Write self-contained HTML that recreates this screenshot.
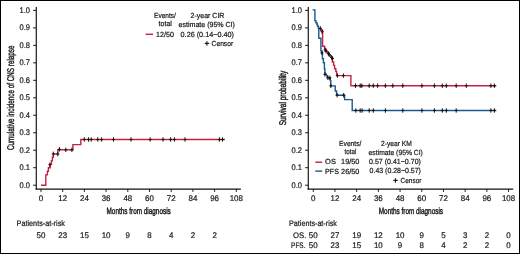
<!DOCTYPE html>
<html><head><meta charset="utf-8"><style>
html,body{margin:0;padding:0;background:#fff;}
body{width:520px;height:254px;overflow:hidden;}
svg{display:block;will-change:transform;text-rendering:geometricPrecision;}
.t{font-family:"Liberation Sans", sans-serif;fill:#1a1a1a;stroke:#1a1a1a;stroke-width:0.22px;}
.lab{font-family:"Liberation Sans", sans-serif;fill:#1a1a1a;stroke:#1a1a1a;stroke-width:0.42px;}
</style></head><body>
<svg width="520" height="254" viewBox="0 0 520 254">
<rect x="0" y="0" width="520" height="254" fill="#fff"/>
<rect x="0.5" y="0.5" width="519" height="253" fill="none" stroke="#000" stroke-width="1"/>
<line x1="36.3" y1="7" x2="36.3" y2="189.7" stroke="#1a1a1a" stroke-width="1.2"/>
<line x1="35.699999999999996" y1="189.1" x2="240.9" y2="189.1" stroke="#111" stroke-width="1.4"/>
<line x1="33.099999999999994" y1="185.20" x2="36.3" y2="185.20" stroke="#1a1a1a" stroke-width="1"/>
<text transform="translate(30.00,187.70) scale(0.92,1)" text-anchor="end" class="t" style="font-size:8.2px">0.0</text>
<line x1="33.099999999999994" y1="167.72" x2="36.3" y2="167.72" stroke="#1a1a1a" stroke-width="1"/>
<text transform="translate(30.00,170.22) scale(0.92,1)" text-anchor="end" class="t" style="font-size:8.2px">0.1</text>
<line x1="33.099999999999994" y1="150.24" x2="36.3" y2="150.24" stroke="#1a1a1a" stroke-width="1"/>
<text transform="translate(30.00,152.74) scale(0.92,1)" text-anchor="end" class="t" style="font-size:8.2px">0.2</text>
<line x1="33.099999999999994" y1="132.76" x2="36.3" y2="132.76" stroke="#1a1a1a" stroke-width="1"/>
<text transform="translate(30.00,135.26) scale(0.92,1)" text-anchor="end" class="t" style="font-size:8.2px">0.3</text>
<line x1="33.099999999999994" y1="115.28" x2="36.3" y2="115.28" stroke="#1a1a1a" stroke-width="1"/>
<text transform="translate(30.00,117.78) scale(0.92,1)" text-anchor="end" class="t" style="font-size:8.2px">0.4</text>
<line x1="33.099999999999994" y1="97.80" x2="36.3" y2="97.80" stroke="#1a1a1a" stroke-width="1"/>
<text transform="translate(30.00,100.30) scale(0.92,1)" text-anchor="end" class="t" style="font-size:8.2px">0.5</text>
<line x1="33.099999999999994" y1="80.32" x2="36.3" y2="80.32" stroke="#1a1a1a" stroke-width="1"/>
<text transform="translate(30.00,82.82) scale(0.92,1)" text-anchor="end" class="t" style="font-size:8.2px">0.6</text>
<line x1="33.099999999999994" y1="62.84" x2="36.3" y2="62.84" stroke="#1a1a1a" stroke-width="1"/>
<text transform="translate(30.00,65.34) scale(0.92,1)" text-anchor="end" class="t" style="font-size:8.2px">0.7</text>
<line x1="33.099999999999994" y1="45.36" x2="36.3" y2="45.36" stroke="#1a1a1a" stroke-width="1"/>
<text transform="translate(30.00,47.86) scale(0.92,1)" text-anchor="end" class="t" style="font-size:8.2px">0.8</text>
<line x1="33.099999999999994" y1="27.88" x2="36.3" y2="27.88" stroke="#1a1a1a" stroke-width="1"/>
<text transform="translate(30.00,30.38) scale(0.92,1)" text-anchor="end" class="t" style="font-size:8.2px">0.9</text>
<line x1="33.099999999999994" y1="10.40" x2="36.3" y2="10.40" stroke="#1a1a1a" stroke-width="1"/>
<text transform="translate(30.00,12.90) scale(0.92,1)" text-anchor="end" class="t" style="font-size:8.2px">1.0</text>
<line x1="41.00" y1="189.1" x2="41.00" y2="191.9" stroke="#1a1a1a" stroke-width="1"/>
<text transform="translate(41.00,200.80) scale(0.97,1)" text-anchor="middle" class="t" style="font-size:8.2px">0</text>
<line x1="62.70" y1="189.1" x2="62.70" y2="191.9" stroke="#1a1a1a" stroke-width="1"/>
<text transform="translate(62.70,200.80) scale(0.97,1)" text-anchor="middle" class="t" style="font-size:8.2px">12</text>
<line x1="84.40" y1="189.1" x2="84.40" y2="191.9" stroke="#1a1a1a" stroke-width="1"/>
<text transform="translate(84.40,200.80) scale(0.97,1)" text-anchor="middle" class="t" style="font-size:8.2px">24</text>
<line x1="106.10" y1="189.1" x2="106.10" y2="191.9" stroke="#1a1a1a" stroke-width="1"/>
<text transform="translate(106.10,200.80) scale(0.97,1)" text-anchor="middle" class="t" style="font-size:8.2px">36</text>
<line x1="127.80" y1="189.1" x2="127.80" y2="191.9" stroke="#1a1a1a" stroke-width="1"/>
<text transform="translate(127.80,200.80) scale(0.97,1)" text-anchor="middle" class="t" style="font-size:8.2px">48</text>
<line x1="149.50" y1="189.1" x2="149.50" y2="191.9" stroke="#1a1a1a" stroke-width="1"/>
<text transform="translate(149.50,200.80) scale(0.97,1)" text-anchor="middle" class="t" style="font-size:8.2px">60</text>
<line x1="171.20" y1="189.1" x2="171.20" y2="191.9" stroke="#1a1a1a" stroke-width="1"/>
<text transform="translate(171.20,200.80) scale(0.97,1)" text-anchor="middle" class="t" style="font-size:8.2px">72</text>
<line x1="192.90" y1="189.1" x2="192.90" y2="191.9" stroke="#1a1a1a" stroke-width="1"/>
<text transform="translate(192.90,200.80) scale(0.97,1)" text-anchor="middle" class="t" style="font-size:8.2px">84</text>
<line x1="214.60" y1="189.1" x2="214.60" y2="191.9" stroke="#1a1a1a" stroke-width="1"/>
<text transform="translate(214.60,200.80) scale(0.97,1)" text-anchor="middle" class="t" style="font-size:8.2px">96</text>
<line x1="236.30" y1="189.1" x2="236.30" y2="191.9" stroke="#1a1a1a" stroke-width="1"/>
<text transform="translate(236.30,200.80) scale(0.97,1)" text-anchor="middle" class="t" style="font-size:8.2px">108</text>
<text x="138.65" y="213.8" text-anchor="middle" textLength="64.2" lengthAdjust="spacingAndGlyphs" class="lab" style="font-size:9px">Months from diagnosis</text>
<text transform="translate(14.3,97.75) rotate(-90)" text-anchor="middle" textLength="104.4" lengthAdjust="spacingAndGlyphs" class="lab" style="font-size:9.8px">Cumulative incidence of CNS relapse</text>
<path d="M41 185.2 H45.8 V174.9 H47.4 V171.2 H48.4 V167.7 H50.2 V164.2 H51.4 V160.7 H52.4 V157.2 H53.3 V154.0 H57.8 V149.8 H72.9 V144.6 H80.8 V139.5 H225" stroke="#c8203f" stroke-width="1.4" fill="none"/>
<path d="M48.40 164.70H51.40M49.90 162.50V166.90" stroke="#111" stroke-width="1" fill="none"/>
<path d="M51.80 153.80H54.80M53.30 151.60V156.00" stroke="#111" stroke-width="1" fill="none"/>
<path d="M56.30 154.10H59.30M57.80 151.90V156.30" stroke="#111" stroke-width="1" fill="none"/>
<path d="M57.90 149.30H60.90M59.40 147.10V151.50" stroke="#111" stroke-width="1" fill="none"/>
<path d="M64.30 149.80H67.30M65.80 147.60V152.00" stroke="#111" stroke-width="1" fill="none"/>
<path d="M70.40 149.80H73.40M71.90 147.60V152.00" stroke="#111" stroke-width="1" fill="none"/>
<path d="M82.80 139.50H85.80M84.30 137.30V141.70" stroke="#111" stroke-width="1" fill="none"/>
<path d="M87.00 139.50H90.00M88.50 137.30V141.70" stroke="#111" stroke-width="1" fill="none"/>
<path d="M89.70 139.50H92.70M91.20 137.30V141.70" stroke="#111" stroke-width="1" fill="none"/>
<path d="M96.30 139.50H99.30M97.80 137.30V141.70" stroke="#111" stroke-width="1" fill="none"/>
<path d="M100.10 139.50H103.10M101.60 137.30V141.70" stroke="#111" stroke-width="1" fill="none"/>
<path d="M112.00 139.50H115.00M113.50 137.30V141.70" stroke="#111" stroke-width="1" fill="none"/>
<path d="M129.50 139.50H132.50M131.00 137.30V141.70" stroke="#111" stroke-width="1" fill="none"/>
<path d="M148.70 139.50H151.70M150.20 137.30V141.70" stroke="#111" stroke-width="1" fill="none"/>
<path d="M161.50 139.50H164.50M163.00 137.30V141.70" stroke="#111" stroke-width="1" fill="none"/>
<path d="M169.10 139.50H172.10M170.60 137.30V141.70" stroke="#111" stroke-width="1" fill="none"/>
<path d="M172.90 139.50H175.90M174.40 137.30V141.70" stroke="#111" stroke-width="1" fill="none"/>
<path d="M183.50 139.50H186.50M185.00 137.30V141.70" stroke="#111" stroke-width="1" fill="none"/>
<path d="M217.90 139.50H220.90M219.40 137.30V141.70" stroke="#111" stroke-width="1" fill="none"/>
<path d="M221.00 139.50H224.00M222.50 137.30V141.70" stroke="#111" stroke-width="1" fill="none"/>
<line x1="145.6" y1="34.3" x2="153" y2="34.3" stroke="#c8203f" stroke-width="1.4"/>
<path d="M204.8 43.4H209.2" stroke="#111" stroke-width="1.2"/><path d="M206.95 41.1V45.8" stroke="#111" stroke-width="1"/>
<path d="M393.3 180.4H397.7" stroke="#111" stroke-width="1.2"/><path d="M395.45 178.1V182.8" stroke="#111" stroke-width="1"/>
<text transform="translate(41.00,237.90) scale(0.97,1)" text-anchor="middle" class="t" style="font-size:8.2px">50</text>
<text transform="translate(62.70,237.90) scale(0.97,1)" text-anchor="middle" class="t" style="font-size:8.2px">23</text>
<text transform="translate(84.40,237.90) scale(0.97,1)" text-anchor="middle" class="t" style="font-size:8.2px">15</text>
<text transform="translate(106.10,237.90) scale(0.97,1)" text-anchor="middle" class="t" style="font-size:8.2px">10</text>
<text transform="translate(127.80,237.90) scale(0.97,1)" text-anchor="middle" class="t" style="font-size:8.2px">9</text>
<text transform="translate(149.50,237.90) scale(0.97,1)" text-anchor="middle" class="t" style="font-size:8.2px">8</text>
<text transform="translate(171.20,237.90) scale(0.97,1)" text-anchor="middle" class="t" style="font-size:8.2px">4</text>
<text transform="translate(192.90,237.90) scale(0.97,1)" text-anchor="middle" class="t" style="font-size:8.2px">2</text>
<text transform="translate(214.60,237.90) scale(0.97,1)" text-anchor="middle" class="t" style="font-size:8.2px">2</text>
<line x1="308.3" y1="7" x2="308.3" y2="189.7" stroke="#1a1a1a" stroke-width="1.2"/>
<line x1="307.7" y1="189.1" x2="513.15" y2="189.1" stroke="#111" stroke-width="1.4"/>
<line x1="305.1" y1="185.20" x2="308.3" y2="185.20" stroke="#1a1a1a" stroke-width="1"/>
<text transform="translate(302.00,187.70) scale(0.92,1)" text-anchor="end" class="t" style="font-size:8.2px">0.0</text>
<line x1="305.1" y1="167.72" x2="308.3" y2="167.72" stroke="#1a1a1a" stroke-width="1"/>
<text transform="translate(302.00,170.22) scale(0.92,1)" text-anchor="end" class="t" style="font-size:8.2px">0.1</text>
<line x1="305.1" y1="150.24" x2="308.3" y2="150.24" stroke="#1a1a1a" stroke-width="1"/>
<text transform="translate(302.00,152.74) scale(0.92,1)" text-anchor="end" class="t" style="font-size:8.2px">0.2</text>
<line x1="305.1" y1="132.76" x2="308.3" y2="132.76" stroke="#1a1a1a" stroke-width="1"/>
<text transform="translate(302.00,135.26) scale(0.92,1)" text-anchor="end" class="t" style="font-size:8.2px">0.3</text>
<line x1="305.1" y1="115.28" x2="308.3" y2="115.28" stroke="#1a1a1a" stroke-width="1"/>
<text transform="translate(302.00,117.78) scale(0.92,1)" text-anchor="end" class="t" style="font-size:8.2px">0.4</text>
<line x1="305.1" y1="97.80" x2="308.3" y2="97.80" stroke="#1a1a1a" stroke-width="1"/>
<text transform="translate(302.00,100.30) scale(0.92,1)" text-anchor="end" class="t" style="font-size:8.2px">0.5</text>
<line x1="305.1" y1="80.32" x2="308.3" y2="80.32" stroke="#1a1a1a" stroke-width="1"/>
<text transform="translate(302.00,82.82) scale(0.92,1)" text-anchor="end" class="t" style="font-size:8.2px">0.6</text>
<line x1="305.1" y1="62.84" x2="308.3" y2="62.84" stroke="#1a1a1a" stroke-width="1"/>
<text transform="translate(302.00,65.34) scale(0.92,1)" text-anchor="end" class="t" style="font-size:8.2px">0.7</text>
<line x1="305.1" y1="45.36" x2="308.3" y2="45.36" stroke="#1a1a1a" stroke-width="1"/>
<text transform="translate(302.00,47.86) scale(0.92,1)" text-anchor="end" class="t" style="font-size:8.2px">0.8</text>
<line x1="305.1" y1="27.88" x2="308.3" y2="27.88" stroke="#1a1a1a" stroke-width="1"/>
<text transform="translate(302.00,30.38) scale(0.92,1)" text-anchor="end" class="t" style="font-size:8.2px">0.9</text>
<line x1="305.1" y1="10.40" x2="308.3" y2="10.40" stroke="#1a1a1a" stroke-width="1"/>
<text transform="translate(302.00,12.90) scale(0.92,1)" text-anchor="end" class="t" style="font-size:8.2px">1.0</text>
<line x1="313.25" y1="189.1" x2="313.25" y2="191.9" stroke="#1a1a1a" stroke-width="1"/>
<text transform="translate(313.25,200.80) scale(0.97,1)" text-anchor="middle" class="t" style="font-size:8.2px">0</text>
<line x1="334.95" y1="189.1" x2="334.95" y2="191.9" stroke="#1a1a1a" stroke-width="1"/>
<text transform="translate(334.95,200.80) scale(0.97,1)" text-anchor="middle" class="t" style="font-size:8.2px">12</text>
<line x1="356.65" y1="189.1" x2="356.65" y2="191.9" stroke="#1a1a1a" stroke-width="1"/>
<text transform="translate(356.65,200.80) scale(0.97,1)" text-anchor="middle" class="t" style="font-size:8.2px">24</text>
<line x1="378.35" y1="189.1" x2="378.35" y2="191.9" stroke="#1a1a1a" stroke-width="1"/>
<text transform="translate(378.35,200.80) scale(0.97,1)" text-anchor="middle" class="t" style="font-size:8.2px">36</text>
<line x1="400.05" y1="189.1" x2="400.05" y2="191.9" stroke="#1a1a1a" stroke-width="1"/>
<text transform="translate(400.05,200.80) scale(0.97,1)" text-anchor="middle" class="t" style="font-size:8.2px">48</text>
<line x1="421.75" y1="189.1" x2="421.75" y2="191.9" stroke="#1a1a1a" stroke-width="1"/>
<text transform="translate(421.75,200.80) scale(0.97,1)" text-anchor="middle" class="t" style="font-size:8.2px">60</text>
<line x1="443.45" y1="189.1" x2="443.45" y2="191.9" stroke="#1a1a1a" stroke-width="1"/>
<text transform="translate(443.45,200.80) scale(0.97,1)" text-anchor="middle" class="t" style="font-size:8.2px">72</text>
<line x1="465.15" y1="189.1" x2="465.15" y2="191.9" stroke="#1a1a1a" stroke-width="1"/>
<text transform="translate(465.15,200.80) scale(0.97,1)" text-anchor="middle" class="t" style="font-size:8.2px">84</text>
<line x1="486.85" y1="189.1" x2="486.85" y2="191.9" stroke="#1a1a1a" stroke-width="1"/>
<text transform="translate(486.85,200.80) scale(0.97,1)" text-anchor="middle" class="t" style="font-size:8.2px">96</text>
<line x1="508.55" y1="189.1" x2="508.55" y2="191.9" stroke="#1a1a1a" stroke-width="1"/>
<text transform="translate(508.55,200.80) scale(0.97,1)" text-anchor="middle" class="t" style="font-size:8.2px">108</text>
<text x="410.90" y="213.8" text-anchor="middle" textLength="64.2" lengthAdjust="spacingAndGlyphs" class="lab" style="font-size:9px">Months from diagnosis</text>
<text transform="translate(285.6,98) rotate(-90)" text-anchor="middle" textLength="54.7" lengthAdjust="spacingAndGlyphs" class="lab" style="font-size:9.8px">Survival probability</text>
<path d="M318.3 28.4 H320.9 V30.2 H322.6 V46.3 H324.6 V48.6 H325.6 V50.6 H326.8 V52 H328 V53.2 H329 V54.6 H330.2 V56 H331.3 V57.5 H332.4 V62 H333.6 V65.4 H334.6 V68.7 H335.8 V71.4 H336.6 V75.6 H350.9 V85.7 H496.3" stroke="#c8203f" stroke-width="1.4" fill="none"/>
<path d="M312.5 9.9 H314.9 V20.7 H315.9 V22.7 H316.9 V24.2 H317.4 V26 H318.3 V28.4 H318.8 V38.3 H320.9 V50.9 H321.9 V52.9 H322.4 V58.8 H323.4 V62.7 H324.4 V69 H324.9 V74.3 H326.4 V75.8 H327.4 V77.8 H330.3 V80.7 H330.8 V85.9 H335.2 V91 H336.6 V95.2 H344.6 V99.6 H352.2 V110.5 H496.3" stroke="#1d5890" stroke-width="1.4" fill="none"/>
<path d="M318.80 28.40H321.80M320.30 26.20V30.60" stroke="#111" stroke-width="1" fill="none"/>
<path d="M320.60 31.70H323.60M322.10 29.50V33.90" stroke="#111" stroke-width="1" fill="none"/>
<path d="M323.60 49.80H326.60M325.10 47.60V52.00" stroke="#111" stroke-width="1" fill="none"/>
<path d="M324.50 51.10H327.50M326.00 48.90V53.30" stroke="#111" stroke-width="1" fill="none"/>
<path d="M326.90 53.60H329.90M328.40 51.40V55.80" stroke="#111" stroke-width="1" fill="none"/>
<path d="M327.70 54.70H330.70M329.20 52.50V56.90" stroke="#111" stroke-width="1" fill="none"/>
<path d="M330.10 57.50H333.10M331.60 55.30V59.70" stroke="#111" stroke-width="1" fill="none"/>
<path d="M331.00 58.50H334.00M332.50 56.30V60.70" stroke="#111" stroke-width="1" fill="none"/>
<path d="M335.90 75.60H338.90M337.40 73.40V77.80" stroke="#111" stroke-width="1" fill="none"/>
<path d="M341.90 75.60H344.90M343.40 73.40V77.80" stroke="#111" stroke-width="1" fill="none"/>
<path d="M354.00 85.70H357.00M355.50 83.50V87.90" stroke="#111" stroke-width="1" fill="none"/>
<path d="M358.70 85.70H361.70M360.20 83.50V87.90" stroke="#111" stroke-width="1" fill="none"/>
<path d="M360.30 85.70H363.30M361.80 83.50V87.90" stroke="#111" stroke-width="1" fill="none"/>
<path d="M367.70 85.70H370.70M369.20 83.50V87.90" stroke="#111" stroke-width="1" fill="none"/>
<path d="M371.80 85.70H374.80M373.30 83.50V87.90" stroke="#111" stroke-width="1" fill="none"/>
<path d="M376.10 85.70H379.10M377.60 83.50V87.90" stroke="#111" stroke-width="1" fill="none"/>
<path d="M383.90 85.70H386.90M385.40 83.50V87.90" stroke="#111" stroke-width="1" fill="none"/>
<path d="M391.30 85.70H394.30M392.80 83.50V87.90" stroke="#111" stroke-width="1" fill="none"/>
<path d="M401.30 85.70H404.30M402.80 83.50V87.90" stroke="#111" stroke-width="1" fill="none"/>
<path d="M420.40 85.70H423.40M421.90 83.50V87.90" stroke="#111" stroke-width="1" fill="none"/>
<path d="M432.90 85.70H435.90M434.40 83.50V87.90" stroke="#111" stroke-width="1" fill="none"/>
<path d="M440.80 85.70H443.80M442.30 83.50V87.90" stroke="#111" stroke-width="1" fill="none"/>
<path d="M444.80 85.70H447.80M446.30 83.50V87.90" stroke="#111" stroke-width="1" fill="none"/>
<path d="M454.70 85.70H457.70M456.20 83.50V87.90" stroke="#111" stroke-width="1" fill="none"/>
<path d="M464.80 85.70H467.80M466.30 83.50V87.90" stroke="#111" stroke-width="1" fill="none"/>
<path d="M489.40 85.70H492.40M490.90 83.50V87.90" stroke="#111" stroke-width="1" fill="none"/>
<path d="M492.90 85.70H495.90M494.40 83.50V87.90" stroke="#111" stroke-width="1" fill="none"/>
<path d="M320.40 52.90H323.40M321.90 50.70V55.10" stroke="#111" stroke-width="1" fill="none"/>
<path d="M323.40 74.30H326.40M324.90 72.10V76.50" stroke="#111" stroke-width="1" fill="none"/>
<path d="M326.40 77.80H329.40M327.90 75.60V80.00" stroke="#111" stroke-width="1" fill="none"/>
<path d="M328.30 77.80H331.30M329.80 75.60V80.00" stroke="#111" stroke-width="1" fill="none"/>
<path d="M329.30 85.90H332.30M330.80 83.70V88.10" stroke="#111" stroke-width="1" fill="none"/>
<path d="M335.60 95.20H338.60M337.10 93.00V97.40" stroke="#111" stroke-width="1" fill="none"/>
<path d="M342.20 95.20H345.20M343.70 93.00V97.40" stroke="#111" stroke-width="1" fill="none"/>
<path d="M354.30 110.50H357.30M355.80 108.30V112.70" stroke="#111" stroke-width="1" fill="none"/>
<path d="M358.70 110.50H361.70M360.20 108.30V112.70" stroke="#111" stroke-width="1" fill="none"/>
<path d="M360.60 110.50H363.60M362.10 108.30V112.70" stroke="#111" stroke-width="1" fill="none"/>
<path d="M367.70 110.50H370.70M369.20 108.30V112.70" stroke="#111" stroke-width="1" fill="none"/>
<path d="M371.80 110.50H374.80M373.30 108.30V112.70" stroke="#111" stroke-width="1" fill="none"/>
<path d="M383.90 110.50H386.90M385.40 108.30V112.70" stroke="#111" stroke-width="1" fill="none"/>
<path d="M401.30 110.50H404.30M402.80 108.30V112.70" stroke="#111" stroke-width="1" fill="none"/>
<path d="M420.40 110.50H423.40M421.90 108.30V112.70" stroke="#111" stroke-width="1" fill="none"/>
<path d="M432.90 110.50H435.90M434.40 108.30V112.70" stroke="#111" stroke-width="1" fill="none"/>
<path d="M440.80 110.50H443.80M442.30 108.30V112.70" stroke="#111" stroke-width="1" fill="none"/>
<path d="M444.80 110.50H447.80M446.30 108.30V112.70" stroke="#111" stroke-width="1" fill="none"/>
<path d="M454.70 110.50H457.70M456.20 108.30V112.70" stroke="#111" stroke-width="1" fill="none"/>
<path d="M489.40 110.50H492.40M490.90 108.30V112.70" stroke="#111" stroke-width="1" fill="none"/>
<path d="M492.90 110.50H495.90M494.40 108.30V112.70" stroke="#111" stroke-width="1" fill="none"/>
<line x1="315.3" y1="162.2" x2="322.2" y2="162.2" stroke="#c8203f" stroke-width="1.4"/>
<line x1="315.3" y1="171.1" x2="322.2" y2="171.1" stroke="#1d5890" stroke-width="1.4"/>
<text transform="translate(313.25,237.90) scale(0.97,1)" text-anchor="middle" class="t" style="font-size:8.2px">50</text>
<text transform="translate(334.95,237.90) scale(0.97,1)" text-anchor="middle" class="t" style="font-size:8.2px">27</text>
<text transform="translate(356.65,237.90) scale(0.97,1)" text-anchor="middle" class="t" style="font-size:8.2px">19</text>
<text transform="translate(378.35,237.90) scale(0.97,1)" text-anchor="middle" class="t" style="font-size:8.2px">12</text>
<text transform="translate(400.05,237.90) scale(0.97,1)" text-anchor="middle" class="t" style="font-size:8.2px">10</text>
<text transform="translate(421.75,237.90) scale(0.97,1)" text-anchor="middle" class="t" style="font-size:8.2px">9</text>
<text transform="translate(443.45,237.90) scale(0.97,1)" text-anchor="middle" class="t" style="font-size:8.2px">5</text>
<text transform="translate(465.15,237.90) scale(0.97,1)" text-anchor="middle" class="t" style="font-size:8.2px">3</text>
<text transform="translate(486.85,237.90) scale(0.97,1)" text-anchor="middle" class="t" style="font-size:8.2px">2</text>
<text transform="translate(508.55,237.90) scale(0.97,1)" text-anchor="middle" class="t" style="font-size:8.2px">0</text>
<text transform="translate(313.25,248.10) scale(0.97,1)" text-anchor="middle" class="t" style="font-size:8.2px">50</text>
<text transform="translate(334.95,248.10) scale(0.97,1)" text-anchor="middle" class="t" style="font-size:8.2px">23</text>
<text transform="translate(356.65,248.10) scale(0.97,1)" text-anchor="middle" class="t" style="font-size:8.2px">15</text>
<text transform="translate(378.35,248.10) scale(0.97,1)" text-anchor="middle" class="t" style="font-size:8.2px">10</text>
<text transform="translate(400.05,248.10) scale(0.97,1)" text-anchor="middle" class="t" style="font-size:8.2px">9</text>
<text transform="translate(421.75,248.10) scale(0.97,1)" text-anchor="middle" class="t" style="font-size:8.2px">8</text>
<text transform="translate(443.45,248.10) scale(0.97,1)" text-anchor="middle" class="t" style="font-size:8.2px">4</text>
<text transform="translate(465.15,248.10) scale(0.97,1)" text-anchor="middle" class="t" style="font-size:8.2px">2</text>
<text transform="translate(486.85,248.10) scale(0.97,1)" text-anchor="middle" class="t" style="font-size:8.2px">2</text>
<text transform="translate(508.55,248.10) scale(0.97,1)" text-anchor="middle" class="t" style="font-size:8.2px">0</text>
<text x="154.10" y="17.80" textLength="21.80" lengthAdjust="spacingAndGlyphs" class="t" style="font-size:7.4px">Events/</text>
<text x="158.60" y="26.30" textLength="13.30" lengthAdjust="spacingAndGlyphs" class="t" style="font-size:7.4px">total</text>
<text x="190.60" y="17.80" textLength="33.80" lengthAdjust="spacingAndGlyphs" class="t" style="font-size:7.4px">2-year CIR</text>
<text x="178.60" y="26.50" textLength="56.30" lengthAdjust="spacingAndGlyphs" class="t" style="font-size:7.4px">estimate (95% CI)</text>
<text x="156.10" y="36.60" textLength="17.80" lengthAdjust="spacingAndGlyphs" class="t" style="font-size:7.4px">12/50</text>
<text x="180.60" y="36.60" textLength="53.30" lengthAdjust="spacingAndGlyphs" class="t" style="font-size:7.4px">0.26 (0.14−0.40)</text>
<text x="211.60" y="46.00" textLength="21.55" lengthAdjust="spacingAndGlyphs" class="t" style="font-size:7.4px">Censor</text>
<text x="16.60" y="225.80" textLength="48.30" lengthAdjust="spacingAndGlyphs" class="t" style="font-size:8.0px">Patients-at-risk</text>
<text x="339.10" y="145.90" textLength="22.30" lengthAdjust="spacingAndGlyphs" class="t" style="font-size:7.4px">Events/</text>
<text x="344.60" y="154.20" textLength="11.80" lengthAdjust="spacingAndGlyphs" class="t" style="font-size:7.4px">total</text>
<text x="381.10" y="145.90" textLength="30.80" lengthAdjust="spacingAndGlyphs" class="t" style="font-size:7.4px">2-year KM</text>
<text x="368.60" y="154.60" textLength="54.30" lengthAdjust="spacingAndGlyphs" class="t" style="font-size:7.4px">estimate (95% CI)</text>
<text x="325.10" y="164.40" textLength="10.80" lengthAdjust="spacingAndGlyphs" class="t" style="font-size:7.4px">OS</text>
<text x="341.10" y="164.40" textLength="18.30" lengthAdjust="spacingAndGlyphs" class="t" style="font-size:7.4px">19/50</text>
<text x="369.10" y="164.30" textLength="51.80" lengthAdjust="spacingAndGlyphs" class="t" style="font-size:7.4px">0.57 (0.41−0.70)</text>
<text x="325.10" y="173.50" textLength="13.80" lengthAdjust="spacingAndGlyphs" class="t" style="font-size:7.4px">PFS</text>
<text x="341.10" y="173.50" textLength="18.30" lengthAdjust="spacingAndGlyphs" class="t" style="font-size:7.4px">26/50</text>
<text x="369.60" y="173.30" textLength="51.30" lengthAdjust="spacingAndGlyphs" class="t" style="font-size:7.4px">0.43 (0.28−0.57)</text>
<text x="400.60" y="182.90" textLength="20.80" lengthAdjust="spacingAndGlyphs" class="t" style="font-size:7.4px">Censor</text>
<text x="289.10" y="225.60" textLength="47.80" lengthAdjust="spacingAndGlyphs" class="t" style="font-size:8.0px">Patients-at-risk</text>
<text x="293.10" y="237.90" textLength="13.30" lengthAdjust="spacingAndGlyphs" class="t" style="font-size:8.0px">OS.</text>
<text x="291.10" y="248.10" textLength="14.30" lengthAdjust="spacingAndGlyphs" class="t" style="font-size:8.0px">PFS.</text>
</svg>
</body></html>
